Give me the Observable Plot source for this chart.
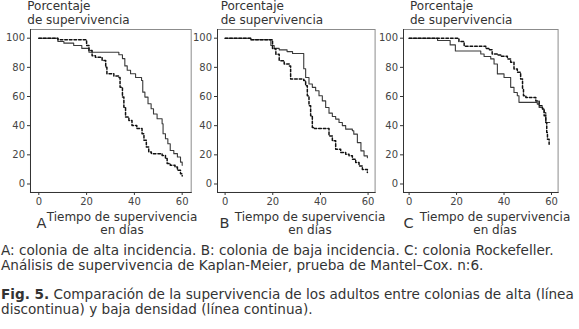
<!DOCTYPE html>
<html>
<head>
<meta charset="utf-8">
<script src="https://cdn.jsdelivr.net/npm/d3@7"></script>
<script src="https://cdn.jsdelivr.net/npm/@observablehq/plot@0.6"></script>
<style>
  html, body { margin: 0; padding: 0; background: #fff; }
  #root { position: relative; width: 579px; height: 329px; overflow: hidden; font-family: 'DejaVu Sans'; color: #333; }
  .abs { position: absolute; white-space: nowrap; font-family: 'DejaVu Sans'; }
  .ttl { font-size: 12px; line-height: 14px; }
  .xl { font-size: 12px; line-height: 13.5px; text-align: center; width: 190px; }
  .let { font-size: 14.5px; line-height: 15px; }
  .cap { font-size: 13.6px; }
  svg { position: absolute; top: 0; }
</style>
</head>
<body>
<div id="root"></div>
<script>
// ---- data ----
const xTicks = [0, 20, 40, 60];
const yTicks = [0, 20, 40, 60, 80, 100];
const panelLetters = ["A", "B", "C"];
const yTitle = ["Porcentaje", "de supervivencia"];
const xTitle = ["Tiempo de supervivencia", "en días"];
const captionLines = [
  "A: colonia de alta incidencia. B: colonia de baja incidencia. C: colonia Rockefeller.",
  "Análisis de supervivencia de Kaplan-Meier, prueba de Mantel\u2013Cox. n:6."
];
const figLabel = "Fig. 5.";
const figText = [" Comparación de la supervivencia de los adultos entre colonias de alta (línea", "discontinua) y baja densidad (línea continua)."];

// Panel A: alta incidencia
const aSolidDays = [0, 8, 10.5, 14.6, 18, 21, 33.5, 35, 36, 37, 38.4, 40.5, 43, 43.5, 44.4, 45.7, 47, 48, 49.5, 51.6, 52, 53, 54, 55, 56.5, 58, 59.3, 60];
const aSolidSurv = [100, 97.7, 96.6, 95, 93, 90.4, 88.6, 86, 81, 78, 75.6, 73, 71, 63, 59.6, 55, 51.6, 48, 44.7, 41.3, 34.5, 31, 27.6, 23, 20.8, 18.5, 15, 12.8];
const aDashDays = [0, 8, 20, 21, 22.3, 23.7, 26.5, 28, 28.5, 31.4, 33.5, 34, 35, 35.6, 36.3, 37.7, 39, 41, 43.2, 44, 45, 46, 47.1, 51.6, 53, 53.7, 55, 57, 58, 59.3, 60];
const aDashSurv = [100, 98.9, 95, 91.5, 88, 87, 84.7, 80, 75.6, 74, 73, 66.4, 59.6, 52.7, 45.9, 43.6, 40.2, 38, 34.5, 30, 25.3, 22, 20.8, 19.6, 17.4, 14, 12.8, 11.6, 9.4, 7, 5.5];

// Panel B: baja incidencia
const bSolidDays = [0, 10.8, 19.2, 20.6, 22.7, 26, 28.3, 33, 33.8, 35.2, 36.6, 38, 39.4, 40.8, 42.2, 43.6, 45, 46.4, 47.8, 49.2, 50.6, 53.4, 54, 55.5, 57, 58.3, 59.7];
const bSolidSurv = [100, 98.9, 95, 93, 92, 90.8, 89.5, 79, 73, 68.6, 66.3, 64, 60.5, 57, 52.5, 48.6, 46.3, 44.5, 42.2, 40, 37.6, 36.5, 34.2, 28.4, 22.7, 19.3, 18];
const bDashDays = [0, 10.8, 19.9, 21.3, 22.7, 24.8, 26.9, 27.5, 33, 33.8, 34.5, 35.2, 35.9, 36.6, 37.5, 43.6, 45, 46.4, 48.5, 50.6, 52, 53.4, 54.8, 56.2, 57.6, 59.7];
const bDashSurv = [100, 98.9, 92.7, 89, 84.6, 82.3, 81, 72, 70.9, 67.4, 60.5, 53.7, 46.8, 38.8, 38, 33, 29.6, 23.9, 21.6, 20.4, 19.3, 17, 14.7, 12.4, 10, 7.8];

// Panel C: Rockefeller
const cSolidDays = [0, 12, 17.3, 19.5, 30.2, 31.6, 34.4, 35.8, 37.2, 40, 42.8, 44.2, 45.6, 46.3, 54, 54.8, 56.2, 56.9, 57.6, 59.3];
const cSolidSurv = [100, 98.4, 95.4, 91.2, 89.2, 87.4, 85.8, 82.3, 75.5, 73, 66.3, 62.8, 60.5, 56, 54.8, 52.5, 51.4, 49, 42.2, 42.2];
const cDashDays = [0, 21, 23.2, 32.3, 33.7, 35, 37.2, 38.6, 41.4, 42.8, 44.2, 45.6, 47, 47.8, 48.2, 49.2, 53.4, 54.8, 56.2, 56.9, 57.6, 58, 58.3, 59];
const cDashSurv = [100, 97.7, 94.5, 93, 92, 89.2, 88.5, 87.6, 85.8, 83.5, 78.9, 76.6, 72, 65, 60.5, 59.4, 57, 53.7, 51.4, 46.8, 42.2, 35.3, 30.7, 27.3];

const series = [
  [aSolidDays, aSolidSurv, aDashDays, aDashSurv],
  [bSolidDays, bSolidSurv, bDashDays, bDashSurv],
  [cSolidDays, cSolidSurv, cDashDays, cDashSurv]
];

// ---- layout (pixels) ----
const layout = [
  {left: 0,     frameW: 160.7, insetL: 8.3, insetR: 9.0, title: 27.3, xl: 122,   letter: 36.5},
  {left: 186.7, frameW: 157.6, insetL: 7.6, insetR: 7.0, title: 220.7, xl: 310,  letter: 219.5},
  {left: 372.7, frameW: 154.6, insetL: 5.6, insetR: 6.6, title: 410,  xl: 495,   letter: 403.5}
];

const toRows = (d, s) => d.map((t, i) => ({t, s: s[i]}));
const root = document.getElementById("root");

layout.forEach((L, i) => {
  const [sd, ss, dd, ds] = series[i];
  const mL = 30, mR = 4;
  const chart = Plot.plot({
    width: mL + L.frameW + mR,
    height: 210,
    marginTop: 29,
    marginBottom: 18,
    marginLeft: mL,
    marginRight: mR,
    x: {domain: [0, 60], insetLeft: L.insetL, insetRight: L.insetR},
    y: {domain: [0, 100], insetTop: 8.7, insetBottom: 8.5},
    style: {fontFamily: "'DejaVu Sans'", fontSize: "10px", color: "#333", background: "transparent", overflow: "visible"},
    marks: [
      Plot.frame({stroke: "#8c8c8c"}),
      Plot.frame({anchor: "left", stroke: "#333"}),
      Plot.frame({anchor: "bottom", stroke: "#333"}),
      Plot.axisX({ticks: xTicks, tickSize: 3, tickPadding: 2, label: null, fill: "#444"}),
      Plot.axisY({ticks: yTicks, tickSize: 3, tickPadding: 2.5, label: null, fill: "#444"}),
      Plot.line(toRows(sd, ss), {x: "t", y: "s", curve: "step-after", stroke: "#3a3a3a", strokeWidth: 1.1}),
      Plot.line(toRows(dd, ds), {x: "t", y: "s", curve: "step-after", stroke: "#111", strokeWidth: 1.5, strokeDasharray: "2.6,2"})
    ]
  });
  chart.style.left = L.left + "px";
  root.appendChild(chart);

  const t = document.createElement("div");
  t.className = "abs ttl";
  t.style.left = L.title + "px";
  t.style.top = "-1.1px";
  t.innerHTML = yTitle.join("<br>");
  root.appendChild(t);

  const xl = document.createElement("div");
  xl.className = "abs xl";
  xl.style.left = (L.xl - 95) + "px";
  xl.style.top = "210.6px";
  xl.innerHTML = xTitle.join("<br>");
  root.appendChild(xl);

  const le = document.createElement("div");
  le.className = "abs let";
  le.style.left = L.letter + "px";
  le.style.top = "215.8px";
  le.textContent = panelLetters[i];
  root.appendChild(le);
});

const cap = document.createElement("div");
cap.className = "abs cap";
cap.style.left = "1px";
cap.style.top = "242.5px";
cap.style.lineHeight = "15.7px";
cap.innerHTML = captionLines.join("<br>");
root.appendChild(cap);

const fig = document.createElement("div");
fig.className = "abs cap";
fig.style.left = "1px";
fig.style.top = "286.6px";
fig.style.lineHeight = "15.6px";
fig.innerHTML = "<b>" + figLabel + "</b>" + figText[0] + "<br>" + figText[1];
root.appendChild(fig);
</script>
</body>
</html>
